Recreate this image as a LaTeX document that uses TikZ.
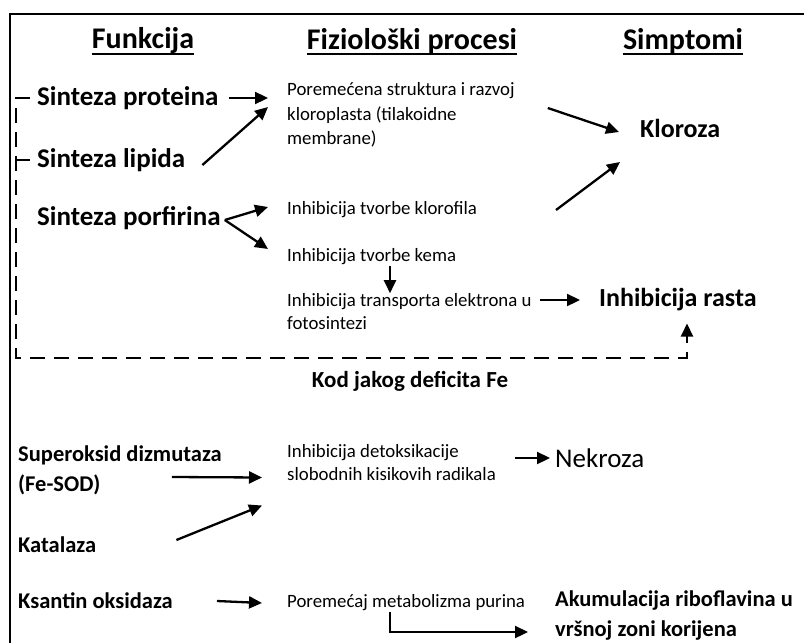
\documentclass[tikz,border=0pt]{standalone}
\usepackage{fontspec}
\setmainfont{Carlito}
\usetikzlibrary{arrows.meta,calc}
\begin{document}
\begin{tikzpicture}[x=1pt,y=-1pt,
 hdr/.style={font=\fontsize{30}{36}\selectfont\bfseries, inner sep=0},
 fn/.style={font=\fontsize{27}{32}\selectfont\bfseries, anchor=west, inner sep=0},
 fntwo/.style={font=\fontsize{22.5}{30}\selectfont\bfseries, anchor=west, inner sep=0, align=left},
 proc/.style={font=\fontsize{18.8}{23}\selectfont, anchor=west, inner sep=0, align=left},
 sym/.style={font=\fontsize{26}{30}\selectfont\bfseries, anchor=west, inner sep=0},
 arr/.style={line width=2.3pt, -{Triangle[length=13pt,width=12pt]}},
 dsh/.style={line width=2.3pt, dash pattern=on 15pt off 9pt},
 uline/.style={line width=2pt},
]
\useasboundingbox (0,0) rectangle (804,643);
\draw[line width=2.5pt] (10,646) -- (10,14) -- (808,14);

% headers
\node[hdr] (h1) at (143,41) {Funkcija};
\node[hdr] (h2) at (412,41) {Fiziološki procesi};
\node[hdr] (h3) at (683,41) {Simptomi};
\foreach \h in {h1,h2,h3}
  \draw[uline] ([yshift=-5pt]\h.base west) -- ([yshift=-5pt]\h.base east);

% functions
\node[fn] (sp) at (37,98) {Sinteza proteina};
\node[fn] (sl) at (37,160) {Sinteza lipida};
\node[fn] (spf) at (37,218) {Sinteza porfirina};

% processes
\node[proc, font=\fontsize{18.8}{24.5}\selectfont] (p1) at (287,115) {Poremećena struktura i razvoj\\kloroplasta (tilakoidne\\membrane)};
\node[proc] (p2) at (287,210) {Inhibicija tvorbe klorofila};
\node[proc] (p3) at (287,257) {Inhibicija tvorbe kema};
\node[proc] (p4) at (287,311.5) {Inhibicija transporta elektrona u\\fotosintezi};

% symptoms
\node[sym] (s1) at (640,128) {Kloroza};
\node[sym] (s2) at (599,300) {Inhibicija rasta};

\node[font=\fontsize{23}{28}\selectfont\bfseries, inner sep=0] (kod) at (410,381) {Kod jakog deficita Fe};

% lower part
\node[fntwo] (sod) at (18,470) {Superoksid dizmutaza\\(Fe-SOD)};
\node[fntwo] (kat) at (18,545) {Katalaza};
\node[fntwo] (ks) at (18,601) {Ksantin oksidaza};
\node[proc] (p5) at (287,462.5) {Inhibicija detoksikacije\\slobodnih kisikovih radikala};
\node[proc] (p6) at (287,603) {Poremećaj metabolizma purina};
\node[font=\fontsize{27}{32}\selectfont, anchor=west, inner sep=0] (s3) at (555,458) {Nekroza};
\node[fntwo] (s4) at (555,616) {Akumulacija riboflavina u\\vršnoj zoni korijena};

% arrows upper
\draw[arr] ([xshift=10pt]sp.east) -- ([xshift=-19pt]p1.west |- sp.east);
\draw[arr] ([xshift=17pt,yshift=-5pt]sl.east) -- ([xshift=-19pt,yshift=8pt]p1.west);
\draw[arr] ([xshift=4pt,yshift=-2pt]spf.east) -- ([xshift=-19pt,yshift=3pt]p2.west);
\draw[arr] ([xshift=4pt,yshift=-2pt]spf.east) -- ([xshift=-19pt,yshift=8pt]p3.west);
\draw[arr] ([xshift=103pt,yshift=-1pt]p3.south west) -- ([xshift=103pt]p4.north west);
\draw[arr] ([xshift=-59pt]s2.west) -- ([xshift=-19pt]s2.west);
\draw[arr] ([xshift=33pt,yshift=7pt]p1.east) -- ([xshift=-21pt,yshift=-4pt]s1.west);
\draw[arr] ([xshift=-84pt]s1.west |- p2.west) -- ([xshift=-20pt,yshift=-34pt]s1.west);

% dashed feedback
\coordinate (dl) at (16,358);
\coordinate (dr) at (687,358);
\draw[dsh] ([xshift=-7pt]sp.west) -| (dl) -- (dr) -- ([yshift=-20pt]dr |- s2.south);
\draw[arr] ([yshift=-19pt]dr |- s2.south) -- ([yshift=-12pt]dr |- s2.south);
\draw[line width=2.3pt] (dl |- sl.west) -- ([xshift=-7pt]sl.west);

% arrows lower
\draw[arr] ([xshift=-50pt,yshift=-7pt]sod.east) -- ([xshift=-25pt,yshift=-15pt]p5.west);
\draw[arr] ([xshift=80pt,yshift=5pt]kat.east) -- ([xshift=-25pt,yshift=-43pt]p5.west);
\draw[arr] ([xshift=44pt]ks.east) -- ([xshift=-25pt]p6.west);
\draw[arr] ([xshift=-40pt]s3.west) -- ([xshift=-5pt]s3.west);
\draw[arr] ([xshift=103pt,yshift=-1pt]p6.south west) |- ([xshift=-27pt,yshift=-16pt]s4.west);
\end{tikzpicture}
\end{document}
